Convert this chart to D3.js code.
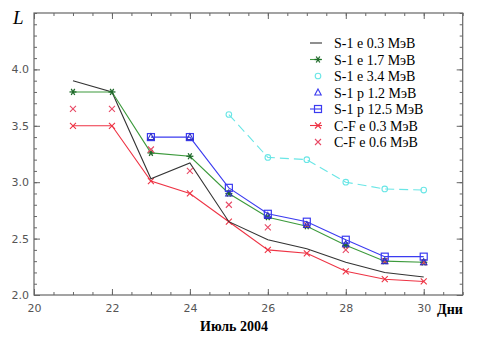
<!DOCTYPE html>
<html>
<head>
<meta charset="utf-8">
<script src="https://cdn.jsdelivr.net/npm/d3@7"></script>
<style>
  body { margin: 0; background: #fff; }
  svg { display: block; }
</style>
</head>
<body>
<div id="chart"></div>
<script>
// days of July 2004
const days = [21, 22, 23, 24, 25, 26, 27, 28, 29, 30];
const daysP = [23, 24, 25, 26, 27, 28, 29, 30];
const daysE34 = [25, 26, 27, 28, 29, 30];

const s1e03 = [3.90, 3.80, 3.03, 3.17, 2.65, 2.49, 2.41, 2.29, 2.20, 2.16];
const s1e17 = [3.80, 3.80, 3.26, 3.23, 2.90, 2.69, 2.61, 2.44, 2.30, 2.29];
const s1e34 = [3.60, 3.22, 3.20, 3.00, 2.94, 2.93];
const s1p12 = [3.40, 3.40, 2.90, 2.70, 2.62, 2.45, 2.30, 2.29];
const s1p125 = [3.40, 3.40, 2.95, 2.72, 2.65, 2.49, 2.34, 2.34];
const cfe03 = [3.50, 3.50, 3.01, 2.90, 2.65, 2.40, 2.37, 2.21, 2.14, 2.12];
const cfe06 = [3.65, 3.65, 3.29, 3.10, 2.80, 2.60, 2.62, 2.40, 2.30, 2.29];

const xTicks = [20, 22, 24, 26, 28, 30];
const yTicks = [2.0, 2.5, 3.0, 3.5, 4.0];

const legendNames = ["S-1 e 0.3 МэВ", "S-1 e 1.7 МэВ", "S-1 e 3.4 МэВ", "S-1 p 1.2 МэВ",
                     "S-1 p 12.5 МэВ", "C-F e 0.3 МэВ", "C-F e 0.6 МэВ"];

const W = 479, H = 339;
const m = {left: 34, right: 462.7, top: 13, bottom: 295};

const svg = d3.select("#chart").append("svg")
  .attr("width", W).attr("height", H);

const x = d3.scaleLinear().domain([20, 31]).range([m.left, m.right]);
const y = d3.scaleLinear().domain([2.0, 4.5]).range([m.bottom, m.top]);

const frameCol = "#666";
const tickFont = "'DejaVu Sans', sans-serif";

// axes with inward ticks on all sides
function ax(gen, tx, ty) {
  return svg.append("g").attr("transform", `translate(${tx},${ty})`).call(gen);
}
const xMinor = d3.range(20, 31.01, 0.5);
const yMinor = d3.range(2.0, 4.501, 0.1);

ax(d3.axisBottom(x).tickValues(xTicks).tickFormat(d3.format("d")).tickSizeInner(-6).tickSizeOuter(0).tickPadding(9), 0, m.bottom);
ax(d3.axisTop(x).tickValues(xTicks).tickFormat("").tickSizeInner(-6).tickSizeOuter(0), 0, m.top);
ax(d3.axisLeft(y).tickValues(yTicks).tickFormat(d3.format(".1f")).tickSizeInner(-6).tickSizeOuter(0).tickPadding(5), m.left, 0);
ax(d3.axisRight(y).tickValues(yTicks).tickFormat("").tickSizeInner(-6).tickSizeOuter(0), m.right, 0);

ax(d3.axisBottom(x).tickValues(xMinor).tickFormat("").tickSizeInner(-3).tickSizeOuter(0), 0, m.bottom);
ax(d3.axisTop(x).tickValues(xMinor).tickFormat("").tickSizeInner(-3).tickSizeOuter(0), 0, m.top);
ax(d3.axisLeft(y).tickValues(yMinor).tickFormat("").tickSizeInner(-3).tickSizeOuter(0), m.left, 0);
ax(d3.axisRight(y).tickValues(yMinor).tickFormat("").tickSizeInner(-3).tickSizeOuter(0), m.right, 0);

svg.selectAll(".domain").remove();
svg.selectAll(".tick line").attr("stroke", frameCol);
svg.selectAll(".tick text").attr("fill", "#555")
  .style("font-family", tickFont).style("font-size", "11px");

svg.append("rect")
  .attr("x", m.left).attr("y", m.top)
  .attr("width", m.right - m.left).attr("height", m.bottom - m.top)
  .attr("fill", "none").attr("stroke", frameCol).attr("stroke-width", 1.2);

// axis titles
svg.append("text").attr("x", 13).attr("y", 24)
  .style("font-family", "'Liberation Serif', serif").style("font-style", "italic")
  .style("font-size", "19px").text("L");
svg.append("text").attr("x", 437).attr("y", 314)
  .style("font-family", "'Liberation Serif', serif").style("font-weight", "bold")
  .style("font-size", "14px").text("Дни");
svg.append("text").attr("x", 234).attr("y", 331).attr("text-anchor", "middle")
  .style("font-family", "'Liberation Serif', serif").style("font-weight", "bold")
  .style("font-size", "14px").text("Июль 2004");

// colours
const cBlack = "#333", cGreen = "#3c9a3c", cCyan = "#6ae6e6", cBlue = "#3b3bf0",
      cRed = "#ee3344", cPink = "#e84a66";

const plot = svg.append("g");

function drawLine(xs, ys, col, dash) {
  const line = d3.line().x((d, i) => x(xs[i])).y(d => y(d));
  plot.append("path").datum(ys)
    .attr("d", line).attr("fill", "none")
    .attr("stroke", col).attr("stroke-width", 1.1)
    .attr("stroke-dasharray", dash || null);
}

// marker helpers
function star(g, cx, cy, col) {
  const r = 3.5;
  [0, 60, 120].forEach(a => {
    const dx = r * Math.cos(a * Math.PI / 180), dy = r * Math.sin(a * Math.PI / 180);
    g.append("line").attr("x1", cx - dx).attr("y1", cy - dy).attr("x2", cx + dx).attr("y2", cy + dy)
      .attr("stroke", col).attr("stroke-width", 1.3);
  });
}
function cross(g, cx, cy, col) {
  const r = 3;
  g.append("path").attr("d", `M${cx - r},${cy - r}L${cx + r},${cy + r}M${cx - r},${cy + r}L${cx + r},${cy - r}`)
    .attr("stroke", col).attr("stroke-width", 1.1);
}
function square(g, cx, cy, col) {
  g.append("rect").attr("x", cx - 3.5).attr("y", cy - 3.5).attr("width", 7).attr("height", 7)
    .attr("fill", "none").attr("stroke", col).attr("stroke-width", 1.2);
}
function tri(g, cx, cy, col) {
  g.append("path").attr("d", `M${cx},${cy - 3.5}L${cx + 3.2},${cy + 2.5}L${cx - 3.2},${cy + 2.5}Z`)
    .attr("fill", "none").attr("stroke", col).attr("stroke-width", 1.1);
}
function circ(g, cx, cy, col) {
  g.append("circle").attr("cx", cx).attr("cy", cy).attr("r", 2.8)
    .attr("fill", "none").attr("stroke", col).attr("stroke-width", 1.1);
}
function marks(xs, ys, fn, col) {
  const g = plot.append("g");
  ys.forEach((v, i) => fn(g, x(xs[i]), y(v), col));
}

drawLine(daysE34, s1e34, cCyan, "9,5");
marks(daysE34, s1e34, circ, cCyan);

drawLine(days, cfe03, cRed);
marks(days, cfe03, cross, cRed);

drawLine(days, s1e03, cBlack);

drawLine(days, s1e17, cGreen);
marks(days, s1e17, star, "#1f6a2a");

marks(days, cfe06, cross, cPink);

drawLine(daysP, s1p125, cBlue);
marks(daysP, s1p125, square, cBlue);
marks(daysP, s1p12, tri, "#3030c0");

// legend
const legend = svg.append("g");
const legY0 = 43, legDy = 16.5;
const legStyles = [
  {col: cBlack, line: true, mk: null},
  {col: cGreen, line: true, mk: star, mcol: "#1f6a2a"},
  {col: cCyan, line: false, mk: circ},
  {col: cBlue, line: false, mk: tri},
  {col: cBlue, line: true, mk: square},
  {col: cRed, line: true, mk: cross},
  {col: cPink, line: false, mk: cross}
];
legendNames.forEach((name, i) => {
  const ly = legY0 + i * legDy;
  const s = legStyles[i];
  if (s.line) {
    legend.append("line").attr("x1", 310).attr("x2", 322).attr("y1", ly).attr("y2", ly)
      .attr("stroke", s.col).attr("stroke-width", 1.1);
  }
  if (s.mk) s.mk(legend, 318, ly, s.mcol || s.col);
  legend.append("text").attr("x", 334).attr("y", ly + 5)
    .style("font-family", "'Liberation Serif', serif").style("font-size", "14px")
    .attr("fill", "#000").text(name);
});
</script>
</body>
</html>
